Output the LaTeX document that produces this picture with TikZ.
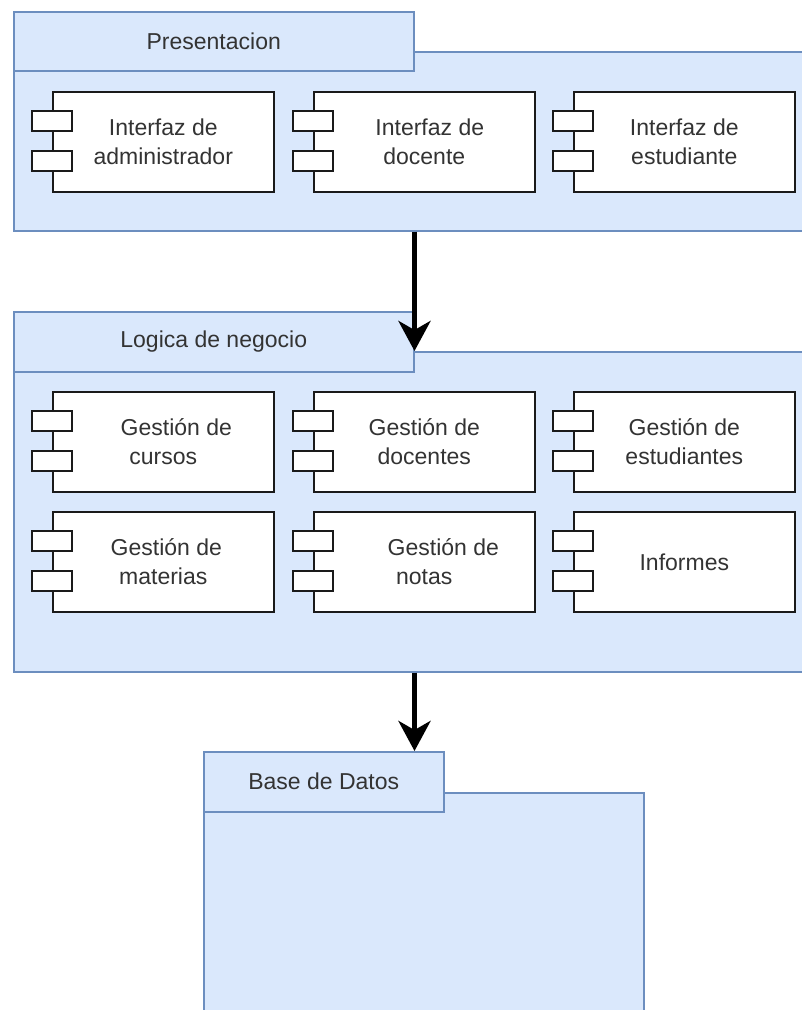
\documentclass[tikz,border=0pt]{standalone}
\usepackage{fontspec}
\setmainfont{Liberation Sans}
\usetikzlibrary{arrows.meta,calc}
\definecolor{pkgfill}{HTML}{DAE8FC}
\definecolor{pkgline}{HTML}{6C8EBF}
\definecolor{txt}{HTML}{333333}
\definecolor{compline}{HTML}{1A1A1A}
\tikzset{
  pkgpart/.style={draw=pkgline, fill=pkgfill, line width=1.5pt, inner sep=0pt,
    anchor=north west, text=txt, font=\fontsize{23}{29}\selectfont},
  compbox/.style={draw=compline, fill=white, line width=1.6pt, inner sep=0pt,
    minimum width=221pt, minimum height=100pt, anchor=north west,
    align=center, text=txt, font=\fontsize{23}{29}\selectfont},
  stubbox/.style={draw=compline, fill=white, line width=1.6pt, inner sep=0pt,
    minimum width=40pt, minimum height=20pt},
  flow/.style={draw=black, line width=5.5pt,
    -{Stealth[length=30pt,width=32pt,inset=9pt]}}
}
\newcommand\umlcomp[4]{%
  \node[compbox] (#1) at (#2,#3) {#4};
  \node[stubbox] (#1s1) at ($(#1.north west)+(0,30)$) {};
  \node[stubbox] (#1s2) at ($(#1.north west)+(0,70)$) {};
}
\begin{document}
\begin{tikzpicture}[x=1pt,y=-1pt]
\clip (0,0) rectangle (802,1010);
\fill[white] (0,0) rectangle (802,1010);

% Presentacion package
\node[pkgpart, minimum width=830pt, minimum height=179pt] (presbody) at (13,51) {};
\node[pkgpart, minimum width=400pt, minimum height=59pt] (prestab) at (13,11) {Presentacion};
\umlcomp{cadmin}{52}{91}{Interfaz de\\administrador}
\umlcomp{cdoc}{313}{91}{\hspace*{11pt}Interfaz de\\docente}
\umlcomp{cest}{573}{91}{Interfaz de\\estudiante}

% Logica de negocio package
\node[pkgpart, minimum width=830pt, minimum height=320pt] (logbody) at (13,351) {};
\node[pkgpart, minimum width=400pt, minimum height=60pt] (logtab) at (13,311) {Logica de negocio};
\umlcomp{gcur}{52}{391}{\hspace*{26pt}Gestión de\\cursos}
\umlcomp{gdoc}{313}{391}{Gestión de\\docentes}
\umlcomp{gest}{573}{391}{Gestión de\\estudiantes}
\umlcomp{gmat}{52}{511}{\hspace*{6pt}Gestión de\\materias}
\umlcomp{gnot}{313}{511}{\hspace*{38pt}Gestión de\\notas}
\umlcomp{ginf}{573}{511}{Informes}

% Base de Datos package
\node[pkgpart, minimum width=440pt, minimum height=250pt] (dbbody) at (203,792) {};
\node[pkgpart, minimum width=240pt, minimum height=60pt] (dbtab) at (203,751) {Base de Datos};

% connectors
\draw[flow] (presbody.south -| prestab.east) -- (logbody.north -| logtab.east);
\draw[flow] (logbody.south -| logtab.east) -- (dbtab.north -| logtab.east);
\end{tikzpicture}
\end{document}
